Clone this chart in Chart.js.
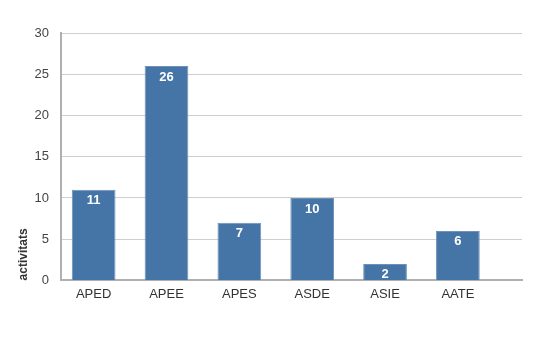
<!DOCTYPE html>
<html>
<head>
<meta charset="utf-8">
<script src="https://cdn.jsdelivr.net/npm/chart.js@4/dist/chart.umd.min.js"></script>
<style>
  html, body { margin: 0; padding: 0; background: #fff; }
  #wrap { width: 543px; height: 358px; }
</style>
</head>
<body>
<div id="wrap"><canvas id="chart" width="543" height="358"></canvas></div>
<script>
const categories = ["APED", "APEE", "APES", "ASDE", "ASIE", "AATE"];
const activitats = [11, 26, 7, 10, 2, 6];
const yTicks = [0, 5, 10, 15, 20, 25, 30];

// white value labels just inside the top of each bar
const barLabels = {
  id: "barLabels",
  afterDatasetsDraw(chart) {
    const ctx = chart.ctx;
    const meta = chart.getDatasetMeta(0);
    ctx.save();
    ctx.fillStyle = "#fff";
    ctx.font = "bold 13px 'Liberation Sans', Arial, sans-serif";
    ctx.textAlign = "center";
    ctx.textBaseline = "middle";
    meta.data.forEach((bar, i) => {
      ctx.fillText(activitats[i], bar.x, bar.y + 11);
    });
    ctx.restore();
  }
};

new Chart(document.getElementById("chart").getContext("2d"), {
  type: "bar",
  data: {
    datasets: [{
      label: "activitats",
      data: activitats.map((v, i) => ({ x: i, y: v })),
      backgroundColor: "#4574a6",
      borderColor: "#6f91b9",
      borderWidth: 1,
      barPercentage: 0.6,
      categoryPercentage: 1
    }]
  },
  options: {
    responsive: false,
    animation: false,
    layout: { padding: { top: 33, right: 21, bottom: 50, left: 16 } },
    plugins: { legend: { display: false }, tooltip: { enabled: false } },
    scales: {
      x: {
        type: "linear",
        offset: false,
        min: -0.45,
        max: 5.88,
        grid: { display: false, drawTicks: false },
        border: { color: "#b0b0b0", width: 2 },
        ticks: {
          stepSize: 1,
          includeBounds: false,
          autoSkip: false,
          maxRotation: 0,
          padding: 6,
          color: "#333",
          font: { family: "'Liberation Sans', Arial, sans-serif", size: 13 },
          callback: v => categories[v] !== undefined && Number.isInteger(v) ? categories[v] : ""
        }
      },
      y: {
        min: 0,
        max: 30,
        afterBuildTicks: axis => { axis.ticks = yTicks.map(v => ({ value: v })); },
        grid: { color: "#cfcfcf", lineWidth: 1, drawTicks: false },
        border: { color: "#b0b0b0", width: 2 },
        ticks: {
          padding: 12,
          color: "#444",
          font: { family: "'Liberation Sans', Arial, sans-serif", size: 13 }
        },
        title: {
          display: true,
          text: "activitats",
          align: "start",
          color: "#333",
          padding: { top: 0, bottom: -8 },
          font: { family: "'Liberation Sans', Arial, sans-serif", size: 12, weight: "bold" }
        }
      }
    }
  },
  plugins: [barLabels]
});
</script>
</body>
</html>
